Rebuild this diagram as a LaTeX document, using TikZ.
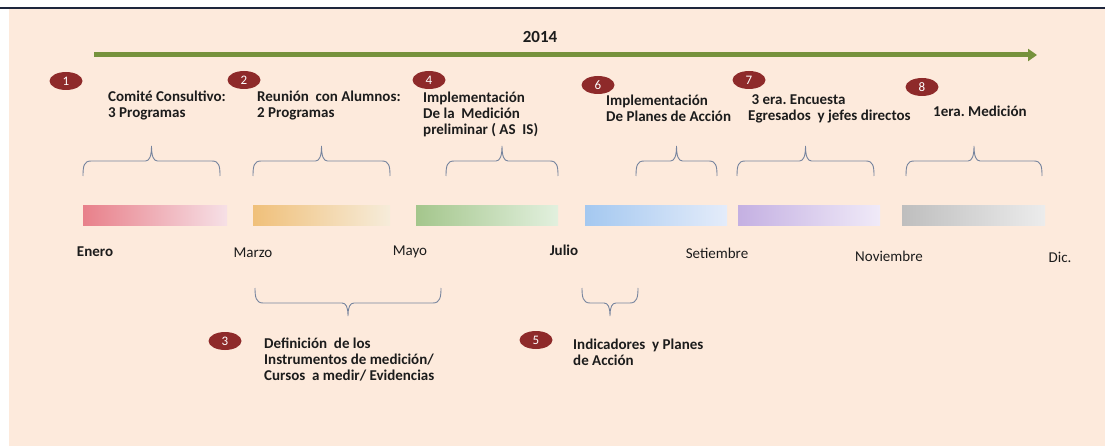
\documentclass[tikz,border=0pt]{standalone}
\usepackage{fontspec}
\setmainfont{Carlito}
\usepackage{xcolor}
\usetikzlibrary{positioning, shapes.geometric, arrows.meta}
\definecolor{peach}{RGB}{253,234,220}
\definecolor{framec}{RGB}{30,38,60}
\definecolor{timegreen}{RGB}{118,146,60}
\definecolor{circred}{RGB}{142,42,42}
\definecolor{bracec}{RGB}{118,132,158}
\definecolor{txtc}{RGB}{28,28,28}
\frenchspacing

\begin{document}
\begin{tikzpicture}[x=1pt, y=-1pt,
    numcirc/.style={ellipse, fill=circred, minimum width=33pt, minimum height=18pt, inner sep=0pt, text=white, font=\fontsize{13}{13}\selectfont},
    stagetext/.style={anchor=west, align=left, inner sep=0pt, text=txtc, font=\fontsize{15}{16}\selectfont\bfseries},
    monthbold/.style={inner sep=0pt, text=txtc, font=\fontsize{15}{16}\selectfont\bfseries},
    monthtext/.style={inner sep=0pt, text=txtc, font=\fontsize{15}{16}\selectfont},
    periodbar/.style={inner sep=0pt, minimum height=20pt},
    bracel/.style={draw=bracec, line width=0.9pt}
]
    \useasboundingbox (0,0) rectangle (1105,446);

    % Background and top rule
    \fill[peach] (9,9) rectangle (1105,446);
    \draw[framec, line width=1.6pt] (0,8) -- (1105,8);

    % Year and timeline arrow
    \node[font=\fontsize{17}{17}\selectfont\bfseries, text=txtc] (year) at (540,37) {2014};
    \coordinate (tstart) at (94,55);
    \coordinate (tend) at (1037,55);
    \draw[timegreen, line width=5pt, -{Triangle[length=9pt, width=12pt]}] (tstart) -- (tend);

    % Upper stages
    \node[numcirc] (c1) at (66,81) {1};
    \node[numcirc] (c2) at (244,80) {2};
    \node[numcirc] (c4) at (429,80) {4};
    \node[numcirc] (c6) at (598,85) {6};
    \node[numcirc] (c7) at (749,80) {7};
    \node[numcirc] (c8) at (922,87) {8};

    \node[stagetext] (t1) at (108,105.5) {Comité Consultivo:\\3 Programas};
    \node[stagetext] (t2) at (257,105.5) {Reunión\ \ con Alumnos:\\2 Programas};
    \node[stagetext] (t4) at (423,114) {Implementación\\De la\ \ Medición\\preliminar ( AS\ \ IS)};
    \node[stagetext] (t6) at (606,108.5) {Implementación\\De Planes de Acción};
    \node[stagetext] (t7) at (748,108.5) {\ 3 era. Encuesta\\Egresados\ \ y jefes directos};
    \node[stagetext] (t8) at (933,111) {1era. Medición};

    % Upper braces (tip up)
    \foreach \a/\b in {83/220, 253/390, 446/558, 636/717, 737/874, 906/1042}{
        \pgfmathsetmacro{\m}{(\a+\b)/2}
        \draw[bracel] (\a,176) .. controls (\a,166) and ({\a+1},161) .. ({\a+8},161)
            -- ({\m-6},161) .. controls ({\m-2},161) and (\m,156) .. (\m,146)
            .. controls (\m,156) and ({\m+2},161) .. ({\m+6},161)
            -- ({\b-8},161) .. controls ({\b-1},161) and (\b,166) .. (\b,176);
    }

    % Period bars
    \node[periodbar, minimum width=144pt, left color={rgb,255:red,232;green,128;blue,138}, right color={rgb,255:red,246;green,224;blue,230}] (bar1) at (155,216) {};
    \node[periodbar, minimum width=137pt, left color={rgb,255:red,240;green,192;blue,122}, right color={rgb,255:red,246;green,236;blue,218}] (bar2) at (321.5,216) {};
    \node[periodbar, minimum width=142pt, left color={rgb,255:red,164;green,198;blue,140}, right color={rgb,255:red,226;green,240;blue,222}] (bar3) at (487,216) {};
    \node[periodbar, minimum width=142pt, left color={rgb,255:red,164;green,200;blue,240}, right color={rgb,255:red,228;green,236;blue,250}] (bar4) at (656,216) {};
    \node[periodbar, minimum width=142pt, left color={rgb,255:red,196;green,176;blue,226}, right color={rgb,255:red,240;green,234;blue,248}] (bar5) at (809,216) {};
    \node[periodbar, minimum width=143pt, left color={rgb,255:red,190;green,190;blue,190}, right color={rgb,255:red,236;green,236;blue,236}] (bar6) at (973.5,216) {};

    % Months
    \node[monthbold] (m1) at (95,252) {Enero};
    \node[monthtext] (m3) at (253,253) {Marzo};
    \node[monthtext] (m5) at (410,252) {Mayo};
    \node[monthbold] (m7) at (564,250) {Julio};
    \node[monthtext] (m9) at (717,253) {Setiembre};
    \node[monthtext] (m11) at (889,256) {Noviembre};
    \node[monthtext] (m12) at (1060,257) {Dic.};

    % Lower braces (tip down)
    \foreach \a/\b in {255/441, 582/638}{
        \pgfmathsetmacro{\m}{(\a+\b)/2}
        \draw[bracel] (\a,288) .. controls (\a,297) and ({\a+1},303) .. ({\a+8},303)
            -- ({\m-6},303) .. controls ({\m-2},303) and (\m,307) .. (\m,316)
            .. controls (\m,307) and ({\m+2},303) .. ({\m+6},303)
            -- ({\b-8},303) .. controls ({\b-1},303) and (\b,297) .. (\b,288);
    }

    % Lower stages
    \node[numcirc] (c3) at (225,341) {3};
    \node[numcirc] (c5) at (536,340) {5};
    \node[stagetext] (t3) at (264,360) {Definición\ \ de los\\Instrumentos de medición/\\Cursos\ \ a medir/ Evidencias};
    \node[stagetext] (t5) at (573,352) {Indicadores\ \ y Planes\\de Acción};

\end{tikzpicture}
\end{document}
